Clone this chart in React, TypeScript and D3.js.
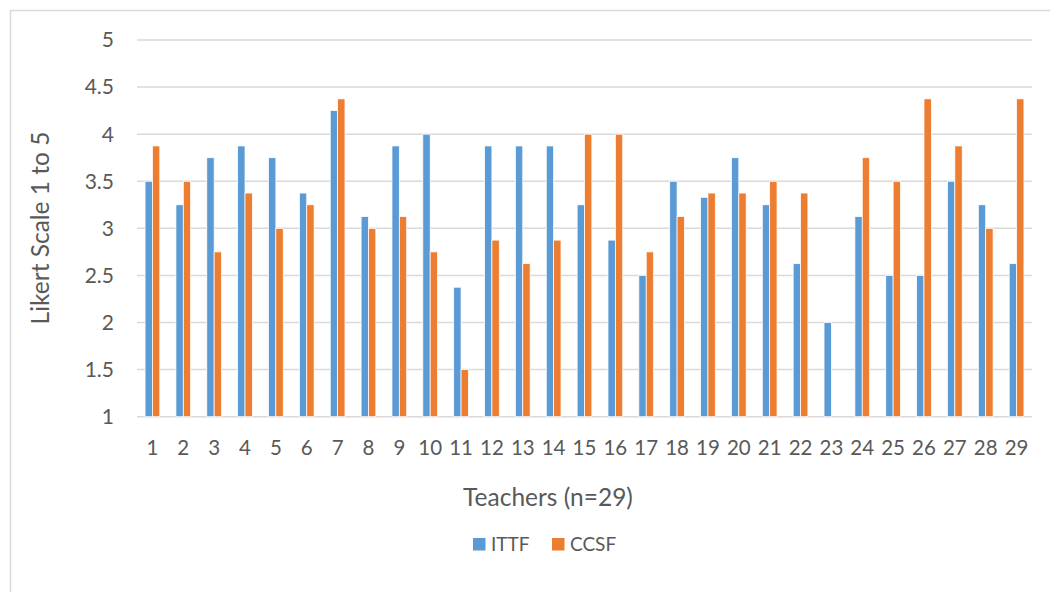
import React from "react";
import * as d3 from "d3";

const categories: string[] = Array.from({ length: 29 }, (_, i) => String(i + 1));
const seriesNames = ["ITTF", "CCSF"];
const ittf: (number | null)[] = [
  3.5, 3.25, 3.75, 3.875, 3.75, 3.375, 4.25, 3.125, 3.875, 4.0,
  2.375, 3.875, 3.875, 3.875, 3.25, 2.875, 2.5, 3.5, 3.33, 3.75,
  3.25, 2.625, 2.0, 3.125, 2.5, 2.5, 3.5, 3.25, 2.625,
];
const ccsf: (number | null)[] = [
  3.875, 3.5, 2.75, 3.375, 3.0, 3.25, 4.375, 3.0, 3.125, 2.75,
  1.5, 2.875, 2.625, 2.875, 4.0, 4.0, 2.75, 3.125, 3.375, 3.375,
  3.5, 3.375, null, 3.75, 3.5, 4.375, 3.875, 3.0, 4.375,
];
const yTicks = [1, 1.5, 2, 2.5, 3, 3.5, 4, 4.5, 5];
const colors = ["#5B9BD5", "#ED7D31"];

const W = 1050;
const H = 592;
const left = 137;
const right = 1032;
const top = 40;
const bottom = 416.7;
const FONT = "Lato, 'Open Sans', sans-serif";
const TXT = "#595959";

export default function App() {
  const x = d3.scaleBand<string>().domain(categories).range([left, right]).padding(0);
  const inner = d3
    .scaleBand<string>()
    .domain(seriesNames)
    .range([0, x.bandwidth()])
    .paddingInner(0)
    .paddingOuter(1.095);
  const y = d3.scaleLinear().domain([1, 5]).range([bottom, top]);
  const data = [ittf, ccsf];

  return (
    <svg
      width={W}
      height={H}
      style={{ position: "absolute", left: 0, top: 0, background: "#fff" }}
      fontFamily={FONT}
    >
      <rect x={0} y={0} width={W} height={H} fill="#fff" />
      <path d={`M10.5,${H + 5} V10.5 H${W + 5}`} fill="none" stroke="#d9d9d9" strokeWidth={1.5} />
      {yTicks.map((t) => (
        <g key={t}>
          <line x1={left} x2={right} y1={y(t)} y2={y(t)} stroke="#d9d9d9" strokeWidth={1.5} />
          <text x={114} y={y(t)} dy="0.35em" textAnchor="end" fontSize={21} fill={TXT}>
            {t}
          </text>
        </g>
      ))}
      {data.map((s, si) =>
        s.map((v, i) =>
          v == null ? null : (
            <rect
              key={`${si}-${i}`}
              x={(x(categories[i]) as number) + (inner(seriesNames[si]) as number)}
              y={y(v)}
              width={inner.bandwidth()}
              height={y(1) - y(v)}
              fill={colors[si]}
              stroke="#fff"
              strokeWidth={0.75}
            />
          )
        )
      )}
      {categories.map((c) => (
        <text
          key={c}
          x={(x(c) as number) + x.bandwidth() / 2}
          y={448}
          dy="0.35em"
          textAnchor="middle"
          fontSize={20.5}
          fill={TXT}
        >
          {c}
        </text>
      ))}
      <text
        transform={`translate(40,228) rotate(-90)`}
        textAnchor="middle"
        dy="0.35em"
        fontSize={24.5}
        fill={TXT}
      >
        Likert Scale 1 to 5
      </text>
      <text x={548} y={497} textAnchor="middle" dy="0.35em" fontSize={24.5} fill={TXT}>
        Teachers (n=29)
      </text>
      {seriesNames.map((n, i) => {
        const lx = i === 0 ? 473 : 552;
        return (
          <g key={n}>
            <rect x={lx} y={538} width={12.5} height={12.5} fill={colors[i]} />
            <text x={lx + 18} y={544.5} dy="0.35em" fontSize={19} fill={TXT}>
              {n}
            </text>
          </g>
        );
      })}
    </svg>
  );
}
